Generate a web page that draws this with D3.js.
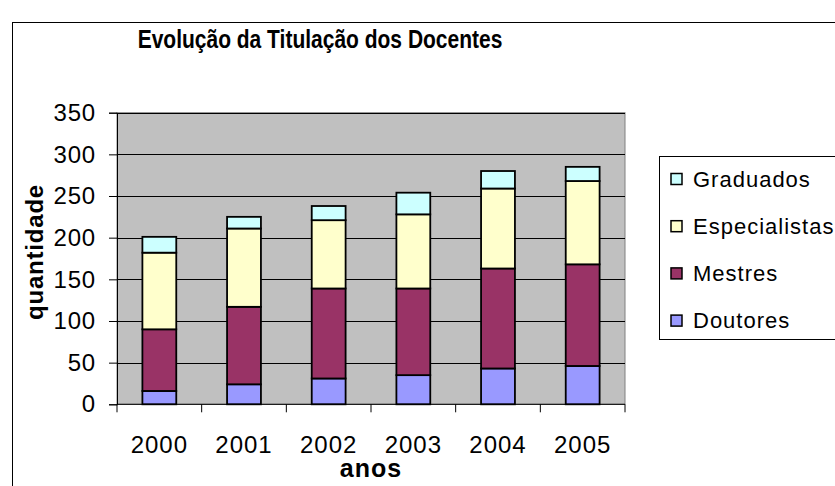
<!DOCTYPE html>
<html>
<head>
<meta charset="utf-8">
<script src="https://cdn.jsdelivr.net/npm/d3@7"></script>
<style>
  body { margin: 0; background: #fff; }
  text { font-family: "Liberation Sans", Arial, sans-serif; fill: #000; }
</style>
</head>
<body>
<div id="chart"></div>
<script>
/* Evolucao da Titulacao dos Docentes - stacked bars */

const anos = ["2000", "2001", "2002", "2003", "2004", "2005"];
const series = ["Doutores", "Mestres", "Especialistas", "Graduados"];
const doutores = [16, 24, 31, 35, 43, 46];
const mestres = [74, 93, 108, 104, 120, 122];
const especialistas = [92, 94, 82, 89, 96, 100];
const graduados = [19, 14, 17, 26, 21, 17];
const yTicks = [0, 50, 100, 150, 200, 250, 300, 350];

const colors = { Doutores: "#9999ff", Mestres: "#993366", Especialistas: "#ffffcc", Graduados: "#ccffff" };

const width = 835, height = 486,
    margin = ({ top: 112.7, right: 210, bottom: 81.7, left: 117 }); // plot area edges

// table for d3.stack
const data = anos.map((a, i) => ({
    ano: a,
    Doutores: doutores[i],
    Mestres: mestres[i],
    Especialistas: especialistas[i],
    Graduados: graduados[i]
}));

let svg = d3.select("#chart")
    .append("svg")
    .attr("width", width)
    .attr("height", height);

// outer chart border
svg.append("rect")
    .attr("x", 12.5).attr("y", 22.5)
    .attr("width", width).attr("height", height)
    .attr("fill", "none").attr("stroke", "#000");

const x = d3.scaleBand()
    .domain(anos)
    .range([margin.left, width - margin.right])
    .paddingInner(0.6).paddingOuter(0.3);

const xOuter = d3.scaleBand()
    .domain(anos)
    .range([margin.left, width - margin.right]);

const y = d3.scaleLinear()
    .domain([0, 350])
    .range([height - margin.bottom, margin.top]);

// plot background
svg.append("rect")
    .attr("x", margin.left).attr("y", margin.top)
    .attr("width", width - margin.right - margin.left)
    .attr("height", y(0) - y(350))
    .attr("fill", "#c0c0c0")
    .attr("stroke", "#808080");

// gridlines
svg.append("g")
    .selectAll("line")
    .data(yTicks.filter(d => d > 0))
    .join("line")
    .attr("x1", margin.left).attr("x2", width - margin.right)
    .attr("y1", d => Math.round(y(d)) + 0.5).attr("y2", d => Math.round(y(d)) + 0.5)
    .attr("stroke", "#000");

// bars
const stacked = d3.stack().keys(series)(data);

svg.append("g")
    .selectAll("g")
    .data(stacked)
    .join("g")
    .attr("fill", d => colors[d.key])
    .selectAll("rect")
    .data(d => d)
    .join("rect")
    .attr("x", d => x(d.data.ano))
    .attr("width", x.bandwidth())
    .attr("y", d => y(d[1]))
    .attr("height", d => y(d[0]) - y(d[1]))
    .attr("stroke", "#000")
    .attr("stroke-width", 1.8);

// y axis
const yAxis = g => g
    .attr("transform", `translate(${margin.left},0)`)
    .call(d3.axisLeft(y).tickValues(yTicks).tickSize(8).tickPadding(13))
    .call(g => g.selectAll("text")
        .style("font-size", "24px")
        .style("letter-spacing", "0.8px")
        .attr("font-family", null));

svg.append("g").call(yAxis);

// x axis, ticks between the categories
const xg = svg.append("g")
    .attr("transform", `translate(0,${y(0)})`);

xg.append("line")
    .attr("x1", margin.left).attr("x2", width - margin.right)
    .attr("stroke", "#000");

xg.selectAll(".tk")
    .data(anos.concat(["end"]))
    .join("line")
    .attr("class", "tk")
    .attr("x1", (d, i) => i < anos.length ? xOuter(d) : width - margin.right)
    .attr("x2", (d, i) => i < anos.length ? xOuter(d) : width - margin.right)
    .attr("y1", 0).attr("y2", 8)
    .attr("stroke", "#000");

xg.selectAll(".lbl")
    .data(anos)
    .join("text")
    .attr("class", "lbl")
    .attr("x", d => xOuter(d) + xOuter.bandwidth() / 2)
    .attr("y", 49)
    .attr("text-anchor", "middle")
    .style("font-size", "24px")
    .style("letter-spacing", "1px")
    .text(d => d);

// titles
svg.append("text")
    .attr("transform", "translate(320,48) scale(1,1.2)")
    .attr("text-anchor", "middle")
    .style("font-size", "21px")
    .style("font-weight", "bold")
    .text("Evolução da Titulação dos Docentes");

svg.append("text")
    .attr("x", (margin.left + width - margin.right) / 2)
    .attr("y", 477)
    .attr("text-anchor", "middle")
    .style("font-size", "25px")
    .style("font-weight", "bold")
    .style("letter-spacing", "1px")
    .text("anos");

svg.append("text")
    .attr("transform", "translate(43,252) rotate(-90)")
    .attr("text-anchor", "middle")
    .style("font-size", "24px")
    .style("font-weight", "bold")
    .style("letter-spacing", "0.8px")
    .text("quantidade");

// legend
const legend = svg.append("g");

legend.append("rect")
    .attr("x", 659.5).attr("y", 156.5)
    .attr("width", 200).attr("height", 183)
    .attr("fill", "#fff").attr("stroke", "#000");

const item = legend.selectAll(".item")
    .data(series.slice().reverse())
    .join("g")
    .attr("class", "item")
    .attr("transform", (d, i) => `translate(671,${173.5 + i * 47.2})`);

item.append("rect")
    .attr("width", 11).attr("height", 11)
    .attr("fill", d => colors[d])
    .attr("stroke", "#000")
    .attr("stroke-width", 1.5);

item.append("text")
    .attr("x", 22).attr("y", 13)
    .style("font-size", "22px")
    .style("letter-spacing", "1px")
    .text(d => d);
</script>
</body>
</html>
